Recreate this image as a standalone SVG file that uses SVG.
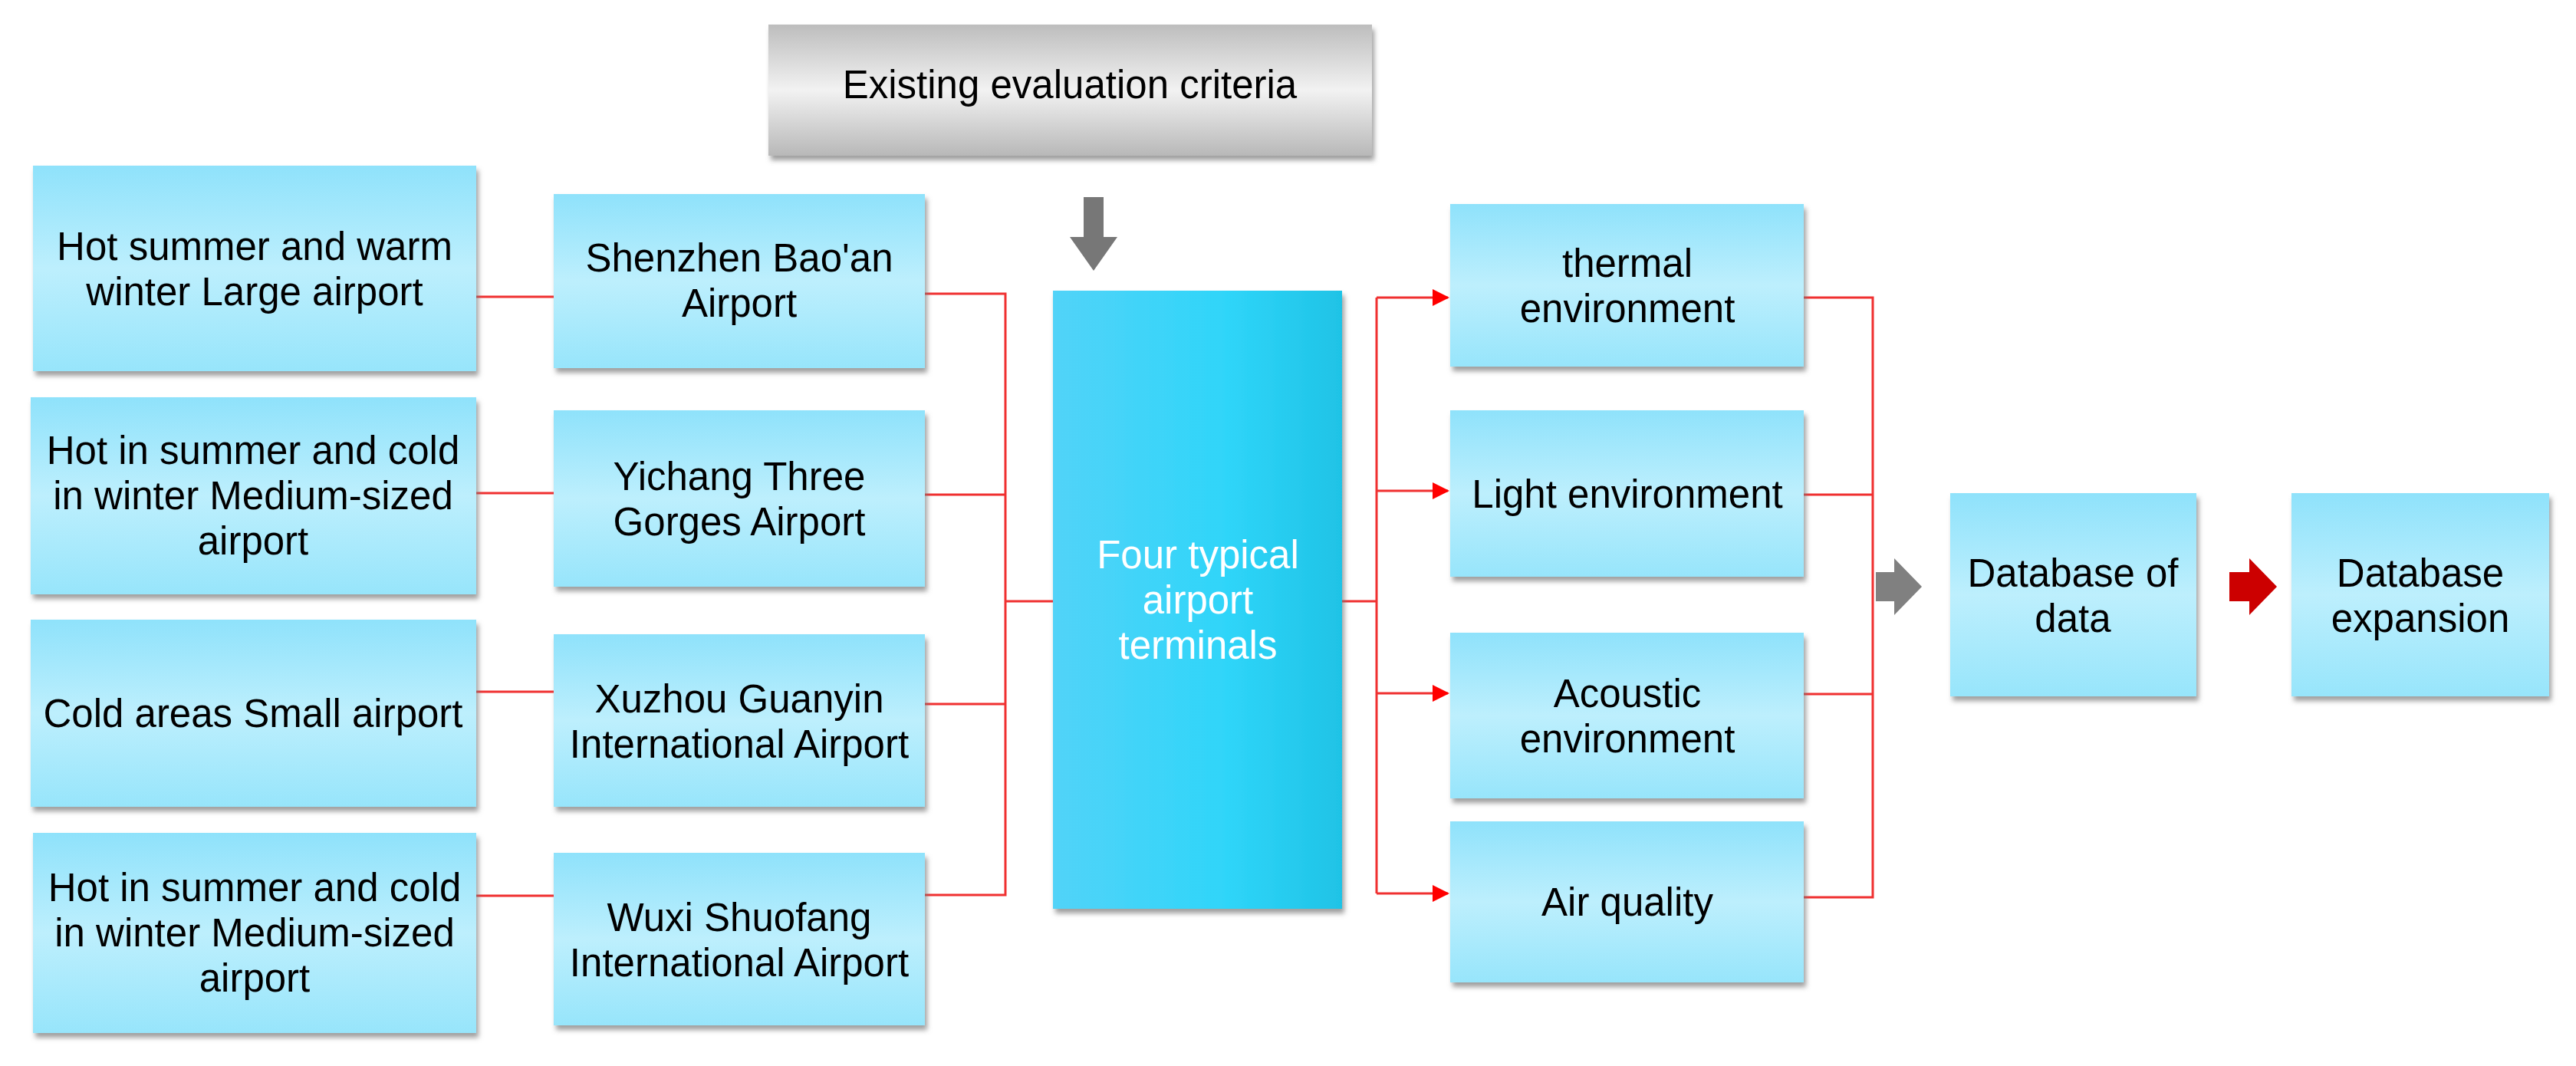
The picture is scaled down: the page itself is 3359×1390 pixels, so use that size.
<svg xmlns="http://www.w3.org/2000/svg" width="3359" height="1390" viewBox="0 0 3359 1390">
<defs>
<linearGradient id="bg" x1="0" y1="0" x2="0" y2="1"><stop offset="0" stop-color="#8fe2fb"/><stop offset="0.5" stop-color="#bdeffd"/><stop offset="1" stop-color="#97e5fb"/></linearGradient>
<linearGradient id="gg" x1="0" y1="0" x2="0" y2="1"><stop offset="0" stop-color="#bdbdbd"/><stop offset="0.5" stop-color="#f2f2f2"/><stop offset="1" stop-color="#b8b8b8"/></linearGradient>
<linearGradient id="cg" x1="0" y1="0" x2="1" y2="0"><stop offset="0" stop-color="#52d3f8"/><stop offset="0.6" stop-color="#2fd5f9"/><stop offset="1" stop-color="#1fc3e6"/></linearGradient>
<filter id="sh" x="-10%" y="-10%" width="120%" height="125%"><feDropShadow dx="3" dy="6" stdDeviation="3" flood-color="#777" flood-opacity="0.7"/></filter>
<marker id="ar" markerWidth="22" markerHeight="22" refX="20" refY="11" orient="auto" markerUnits="userSpaceOnUse" viewBox="0 0 22 22"><path d="M0,0 L22,11 L0,22 z" fill="#ff0000"/></marker>
<style>
.b{fill:url(#bg);filter:url(#sh)}
.t{font-family:"Liberation Sans",Arial,sans-serif;font-size:51px;fill:#000;text-anchor:middle}
.w{fill:#fff}
.c{stroke:#f03030;stroke-width:3;fill:none}
</style>
</defs>
<g id="connectors">
<path class="c" d="M621 387H722M621 643H722M621 902H722M621 1168H722"/>
<path class="c" d="M1206 383H1311V1167H1206M1206 645H1311M1206 918H1311M1311 784H1373"/>
<path class="c" d="M1750 784H1795M1795 388V1165"/>
<path class="c" marker-end="url(#ar)" d="M1795 388H1888"/>
<path class="c" marker-end="url(#ar)" d="M1795 640H1888"/>
<path class="c" marker-end="url(#ar)" d="M1795 904H1888"/>
<path class="c" marker-end="url(#ar)" d="M1795 1165H1888"/>
<path class="c" d="M2352 388H2442V1170H2352M2352 645H2442M2352 905H2442"/>
<path d="M1413 257h26v52h18l-31 44l-31-44h18z" fill="#777"/>
<path d="M2446 746h24v-18l36 37l-36 37v-18h-24z" fill="#808080"/>
<path d="M2907 746h26v-18l36 37l-36 37v-18h-26z" fill="#cc0000"/>
</g>
<g id="criteria"><rect x="1002" y="32" width="787" height="171" fill="url(#gg)" filter="url(#sh)"/><text class="t" x="1395" y="128">Existing evaluation criteria</text></g>
<g id="l1"><rect class="b" x="43" y="216" width="578" height="268"/><text class="t" x="332" y="339">Hot summer and warm</text><text class="t" x="332" y="398">winter Large airport</text></g>
<g id="l2"><rect class="b" x="40" y="518" width="581" height="257"/><text class="t" x="330" y="605">Hot in summer and cold</text><text class="t" x="330" y="664">in winter Medium-sized</text><text class="t" x="330" y="723">airport</text></g>
<g id="l3"><rect class="b" x="40" y="808" width="581" height="244"/><text class="t" x="330" y="948">Cold areas Small airport</text></g>
<g id="l4"><rect class="b" x="43" y="1086" width="578" height="261"/><text class="t" x="332" y="1175">Hot in summer and cold</text><text class="t" x="332" y="1234">in winter Medium-sized</text><text class="t" x="332" y="1293">airport</text></g>
<g id="m1"><rect class="b" x="722" y="253" width="484" height="227"/><text class="t" x="964" y="354">Shenzhen Bao'an</text><text class="t" x="964" y="413">Airport</text></g>
<g id="m2"><rect class="b" x="722" y="535" width="484" height="230"/><text class="t" x="964" y="639">Yichang Three</text><text class="t" x="964" y="698">Gorges Airport</text></g>
<g id="m3"><rect class="b" x="722" y="827" width="484" height="225"/><text class="t" x="964" y="929">Xuzhou Guanyin</text><text class="t" x="964" y="988">International Airport</text></g>
<g id="m4"><rect class="b" x="722" y="1112" width="484" height="225"/><text class="t" x="964" y="1214">Wuxi Shuofang</text><text class="t" x="964" y="1273">International Airport</text></g>
<g id="center"><rect x="1373" y="379" width="377" height="806" fill="url(#cg)" filter="url(#sh)"/><text class="t w" x="1562" y="741">Four typical</text><text class="t w" x="1562" y="800">airport</text><text class="t w" x="1562" y="859">terminals</text></g>
<g id="r1"><rect class="b" x="1891" y="266" width="461" height="212"/><text class="t" x="2122" y="361">thermal</text><text class="t" x="2122" y="420">environment</text></g>
<g id="r2"><rect class="b" x="1891" y="535" width="461" height="217"/><text class="t" x="2122" y="662">Light environment</text></g>
<g id="r3"><rect class="b" x="1891" y="825" width="461" height="216"/><text class="t" x="2122" y="922">Acoustic</text><text class="t" x="2122" y="981">environment</text></g>
<g id="r4"><rect class="b" x="1891" y="1071" width="461" height="210"/><text class="t" x="2122" y="1194">Air quality</text></g>
<g id="db"><rect class="b" x="2543" y="643" width="321" height="265"/><text class="t" x="2703" y="765">Database of</text><text class="t" x="2703" y="824">data</text></g>
<g id="dbx"><rect class="b" x="2988" y="643" width="336" height="265"/><text class="t" x="3156" y="765">Database</text><text class="t" x="3156" y="824">expansion</text></g>
</svg>
